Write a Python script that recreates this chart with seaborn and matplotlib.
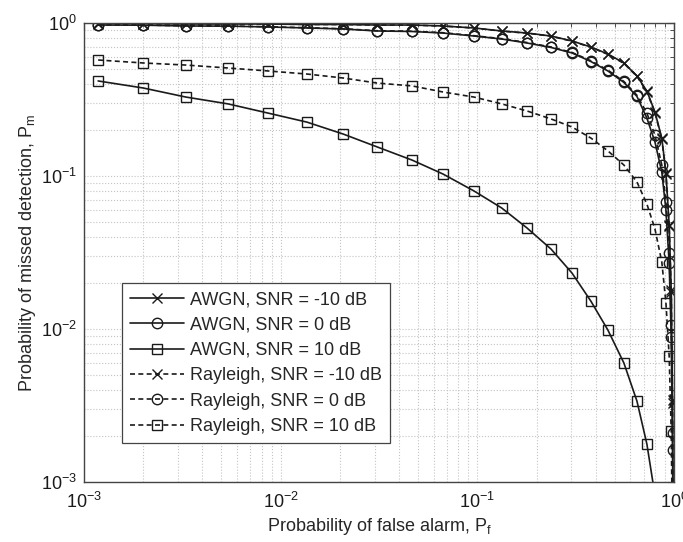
import numpy as np
import pandas as pd
import matplotlib
matplotlib.use('Agg')
import matplotlib.pyplot as plt
import seaborn as sns
from matplotlib.ticker import LogLocator, NullFormatter

# false alarm probability (shared by all curves)
pf = [0.00118, 0.0020, 0.0033, 0.0054, 0.0086, 0.0136, 0.0208, 0.0309, 0.0466,
      0.0669, 0.0962, 0.133, 0.179, 0.237, 0.303, 0.378, 0.461, 0.556, 0.648,
      0.728, 0.800, 0.867, 0.910, 0.945, 0.968, 0.983, 0.992]

# missed detection probability
awgn_m10 = [0.992, 0.992, 0.985, 0.985, 0.985, 0.978, 0.978, 0.970, 0.970, 0.956,
            0.928, 0.887, 0.860, 0.822, 0.763, 0.697, 0.627, 0.548, 0.451, 0.359,
            0.262, 0.177, 0.105, 0.0479, 0.0180, 0.00344, 0.0003]
awgn_0 = [0.970, 0.968, 0.956, 0.954, 0.942, 0.928, 0.914, 0.887, 0.880, 0.860,
          0.822, 0.786, 0.740, 0.692, 0.637, 0.560, 0.486, 0.409, 0.331, 0.239,
          0.167, 0.106, 0.060, 0.0270, 0.00887, 0.00162, 0.0002]
awgn_10 = [0.418, 0.376, 0.328, 0.296, 0.258, 0.225, 0.188, 0.155, 0.127, 0.103,
           0.0798, 0.0618, 0.0457, 0.0333, 0.0232, 0.0152, 0.00985, 0.0060, 0.00338,
           0.00177, 0.00082]
ray_m10 = [0.993, 0.992, 0.986, 0.985, 0.984, 0.979, 0.977, 0.971, 0.969, 0.955,
           0.927, 0.885, 0.858, 0.820, 0.760, 0.694, 0.624, 0.545, 0.448, 0.356,
           0.259, 0.174, 0.103, 0.0470, 0.0175, 0.0033, 0.0003]
ray_0 = [0.972, 0.970, 0.958, 0.956, 0.945, 0.931, 0.917, 0.890, 0.884, 0.864,
         0.826, 0.790, 0.745, 0.697, 0.642, 0.566, 0.492, 0.415, 0.337, 0.258,
         0.185, 0.118, 0.0676, 0.0314, 0.0106, 0.00209, 0.0003]
ray_10 = [0.573, 0.548, 0.531, 0.508, 0.486, 0.464, 0.437, 0.405, 0.388, 0.354,
          0.328, 0.296, 0.266, 0.236, 0.209, 0.177, 0.146, 0.118, 0.0914, 0.0656,
          0.0451, 0.0274, 0.0148, 0.00667, 0.00215, 0.0004]

curves = [
    ('AWGN, SNR = -10 dB', awgn_m10, '-', 'x'),
    ('AWGN, SNR = 0 dB', awgn_0, '-', 'o'),
    ('AWGN, SNR = 10 dB', awgn_10, '-', 's'),
    ('Rayleigh, SNR = -10 dB', ray_m10, (0, (3, 2)), 'x'),
    ('Rayleigh, SNR = 0 dB', ray_0, (0, (3, 2)), 'o'),
    ('Rayleigh, SNR = 10 dB', ray_10, (0, (3, 2)), 's'),
]

sns.set_style("white")
plt.rcParams['font.family'] = ['Liberation Sans', 'DejaVu Sans']
plt.rcParams['axes.unicode_minus'] = False

fig = plt.figure(figsize=(6.83, 5.42), dpi=100)
ax = fig.add_axes([84/683, 1-482/542, 590/683, 459/542])

msize = {'x': 6.5, 'o': 7.5, 's': 6.5}
for label, vals, ls, mk in curves:
    df = pd.DataFrame({'pf': pf[:len(vals)], 'pm': vals})
    sns.lineplot(data=df, x='pf', y='pm', ax=ax, color='#1a1a1a', linestyle=ls,
                 linewidth=1.2, marker=mk, markersize=msize[mk],
                 markerfacecolor='none', markeredgecolor='#1a1a1a',
                 markeredgewidth=1.0, label=label)

ax.set_xscale('log')
ax.set_yscale('log')
ax.set_xlim(1e-3, 1)
ax.set_ylim(1e-3, 1)

ax.xaxis.set_major_locator(LogLocator(base=10, numticks=10))
ax.yaxis.set_major_locator(LogLocator(base=10, numticks=10))
ax.xaxis.set_minor_locator(LogLocator(base=10, subs=np.arange(2, 10), numticks=20))
ax.yaxis.set_minor_locator(LogLocator(base=10, subs=np.arange(2, 10), numticks=20))
ax.xaxis.set_minor_formatter(NullFormatter())
ax.yaxis.set_minor_formatter(NullFormatter())

ax.grid(True, which='both', linestyle=':', color='#c4c4c4', linewidth=0.8)
ax.tick_params(which='both', direction='in', top=True, right=True, colors='#333333')
ax.tick_params(which='major', length=5, width=0.8, labelsize=13, labelcolor='#1a1a1a')
ax.tick_params(axis='x', which='major', pad=7)
ax.tick_params(axis='y', which='major', pad=5)
ax.tick_params(which='minor', length=3, width=0.6)
for sp in ax.spines.values():
    sp.set_color('#444444')
    sp.set_linewidth(1.0)

ax.set_xlabel('Probability of false alarm, P$_{\\mathdefault{f}}$', fontsize=13, labelpad=3)
ax.set_ylabel('Probability of missed detection, P$_{\\mathdefault{m}}$', fontsize=13, labelpad=2)

leg = ax.legend(loc='lower left', bbox_to_anchor=(0.064, 0.085), borderaxespad=0,
                fontsize=13, handlelength=3.0, labelspacing=0.46, fancybox=False,
                framealpha=1, edgecolor='#444444', borderpad=0.45, handletextpad=0.35)
leg.get_frame().set_linewidth(0.9)

plt.savefig('out.png', dpi=100)
